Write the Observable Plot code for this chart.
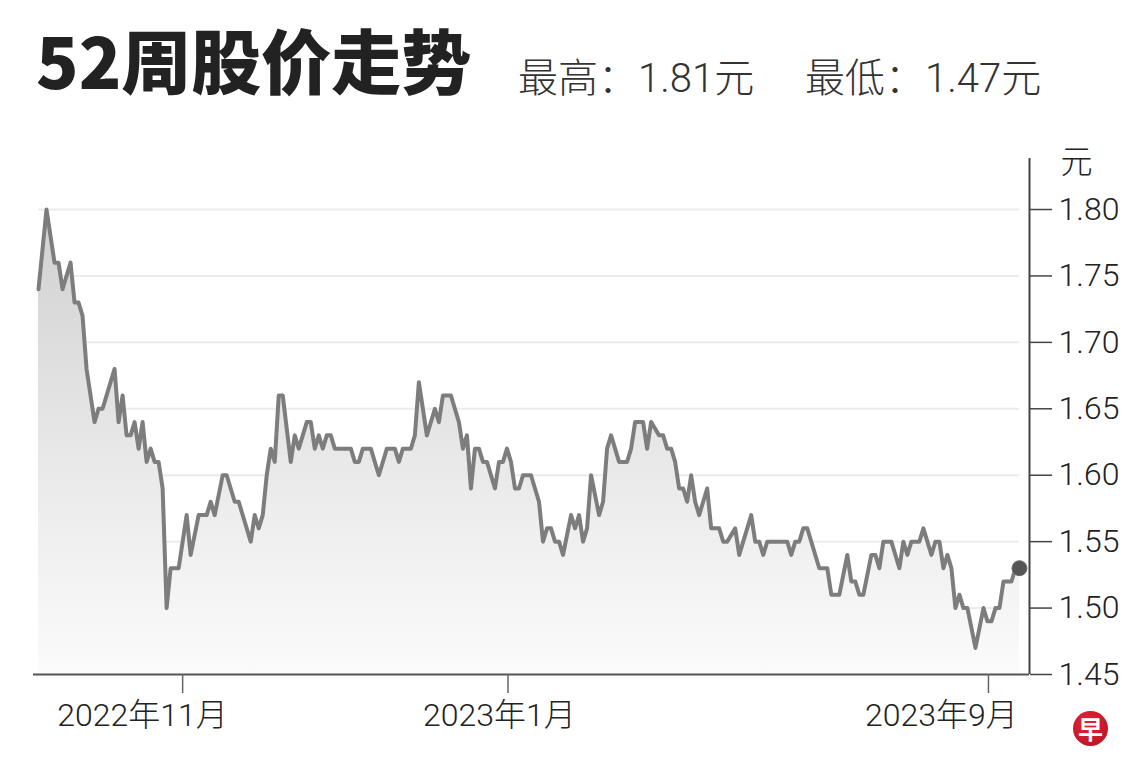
<!DOCTYPE html>
<html>
<head>
<meta charset="utf-8">
<script src="https://cdn.jsdelivr.net/npm/d3@7"></script>
<script src="https://cdn.jsdelivr.net/npm/@observablehq/plot@0.6"></script>
<style>
  html, body { margin: 0; padding: 0; background: #fff; }
  #wrap { position: relative; width: 1140px; height: 778px; overflow: hidden; }
  #header { display: block; }
  #logo {
    position: absolute; left: 1073px; top: 711px; width: 35px; height: 35px;
    border-radius: 50%; background: radial-gradient(circle at 40% 35%, #e0283c, #b3101f);
    color: #fff; font: bold 25px "Noto Sans CJK SC", sans-serif; line-height: 35px; text-align: center;
  }
</style>
</head>
<body>
<div id="wrap">
  <svg id="header" width="1140" height="120" xmlns="http://www.w3.org/2000/svg">
    <text x="36" y="89" font-family="'Noto Sans CJK SC', sans-serif" font-weight="900" font-size="70" fill="#222">52周股价走势</text>
    <text x="518" y="92" font-family="Roboto, 'Noto Sans CJK SC', sans-serif" font-weight="300" font-size="40" fill="#333">最高：1.81元</text>
    <text x="805" y="92" font-family="Roboto, 'Noto Sans CJK SC', sans-serif" font-weight="300" font-size="40" fill="#333">最低：1.47元</text>
  </svg>
  <div id="chart"></div>
  <div id="logo">早</div>
</div>
<script>
// Trading-day index along the 52-week window
const days = [
  0, 2, 4, 5, 6, 8, 9, 10, 11, 12, 14, 15, 16, 19, 20, 21, 22, 23, 24, 25,
  26, 27, 28, 29, 30, 31, 32, 33, 35, 37, 38, 40, 42, 43, 44, 46, 47, 49, 50, 53,
  54, 55, 56, 57, 58, 59, 60, 61, 63, 64, 65, 67, 68, 69, 70, 71, 72, 73, 74, 78,
  79, 80, 81, 83, 85, 87, 89, 90, 91, 93, 94, 95, 97, 99, 100, 101, 103, 105, 106, 107,
  108, 109, 110, 111, 112, 114, 115, 116, 117, 118, 119, 120, 121, 123, 125, 126, 127, 128, 129, 130,
  131, 133, 134, 135, 136, 137, 138, 140, 141, 142, 143, 145, 147, 148, 149, 151, 152, 153, 155, 156,
  157, 158, 159, 160, 161, 162, 163, 164, 165, 167, 168, 170, 171, 172, 174, 175, 178, 179, 180, 181,
  182, 187, 188, 189, 190, 191, 192, 195, 197, 198, 200, 202, 203, 204, 205, 206, 208, 209, 210, 211,
  213, 215, 216, 217, 218, 220, 221, 223, 224, 225, 226, 227, 228, 229, 230, 231, 232, 234, 236, 237,
  238, 239, 240, 241, 243, 244, 245
];
// Closing price (元)
const prices = [
  1.74, 1.80, 1.76, 1.76, 1.74, 1.76, 1.73, 1.73, 1.72, 1.68, 1.64, 1.65, 1.65, 1.68, 1.64, 1.66, 1.63, 1.63, 1.64, 1.62,
  1.64, 1.61, 1.62, 1.61, 1.61, 1.59, 1.50, 1.53, 1.53, 1.57, 1.54, 1.57, 1.57, 1.58, 1.57, 1.60, 1.60, 1.58, 1.58, 1.55,
  1.57, 1.56, 1.57, 1.60, 1.62, 1.61, 1.66, 1.66, 1.61, 1.63, 1.62, 1.64, 1.64, 1.62, 1.63, 1.62, 1.63, 1.63, 1.62, 1.62,
  1.61, 1.61, 1.62, 1.62, 1.60, 1.62, 1.62, 1.61, 1.62, 1.62, 1.63, 1.67, 1.63, 1.65, 1.64, 1.66, 1.66, 1.64, 1.62, 1.63,
  1.59, 1.62, 1.62, 1.61, 1.61, 1.59, 1.61, 1.61, 1.62, 1.61, 1.59, 1.59, 1.60, 1.60, 1.58, 1.55, 1.56, 1.56, 1.55, 1.55,
  1.54, 1.57, 1.56, 1.57, 1.55, 1.56, 1.60, 1.57, 1.58, 1.62, 1.63, 1.61, 1.61, 1.62, 1.64, 1.64, 1.62, 1.64, 1.63, 1.63,
  1.62, 1.62, 1.61, 1.59, 1.59, 1.58, 1.60, 1.58, 1.57, 1.59, 1.56, 1.56, 1.55, 1.55, 1.56, 1.54, 1.57, 1.55, 1.55, 1.54,
  1.55, 1.55, 1.54, 1.55, 1.55, 1.56, 1.56, 1.53, 1.53, 1.51, 1.51, 1.54, 1.52, 1.52, 1.51, 1.51, 1.54, 1.54, 1.53, 1.55,
  1.55, 1.53, 1.55, 1.54, 1.55, 1.55, 1.56, 1.54, 1.55, 1.55, 1.53, 1.54, 1.53, 1.50, 1.51, 1.50, 1.50, 1.47, 1.50, 1.49,
  1.49, 1.50, 1.50, 1.52, 1.52, 1.53, 1.53
];
// Month ticks on the x axis
const tickDays = [36, 117.25, 237.25];
const tickLabels = ["2022年11月", "2023年1月", "2023年9月"];
const labelDays = [26, 115.1, 225.5];
// Price ticks on the y axis
const yTicks = [1.45, 1.50, 1.55, 1.60, 1.65, 1.70, 1.75, 1.80];
const yUnit = "元";

const data = days.map((d, i) => ({day: d, price: prices[i]}));
const last = data[data.length - 1];
const xMax = 247.5;
const yTop = 1.8384;

const chart = Plot.plot({
  width: 1140,
  height: 658,
  marginTop: 38,
  marginBottom: 104,
  marginLeft: 33,
  marginRight: 111,
  style: {fontFamily: "Roboto, 'Noto Sans CJK SC', sans-serif", fontSize: "32px", fontWeight: 300, color: "#222", background: "#fff"},
  x: {domain: [-1.25, xMax], axis: null},
  y: {domain: [1.45, yTop], axis: null},
  marks: [
    Plot.ruleY(yTicks.filter(t => t > 1.45), {x1: days[0], x2: days[days.length - 1], stroke: "#ececec", strokeWidth: 2}),
    Plot.areaY(data, {x: "day", y1: 1.45, y2: "price", fill: "url(#areaGrad)", curve: "linear"}),
    Plot.line(data, {x: "day", y: "price", stroke: "#7d7d7d", strokeWidth: 4, strokeLinejoin: "round", strokeLinecap: "round"}),
    Plot.dot([last], {x: "day", y: "price", r: 7.5, fill: "#555", stroke: "#6a6a6a", strokeWidth: 1}),
    Plot.ruleY([1.45], {stroke: "#555", strokeWidth: 2}),
    Plot.ruleX([xMax], {stroke: "#444", strokeWidth: 2}),
    Plot.axisY(yTicks, {anchor: "right", tickSize: 22, tickPadding: 7, tickFormat: d => d.toFixed(2), stroke: "#444", strokeWidth: 1.5, fontSize: 32, fill: "#222", label: null}),
    Plot.text([yUnit], {frameAnchor: "top-right", textAnchor: "start", dx: 31, dy: -8, fontSize: 32, fill: "#222"}),
    Plot.axisX(tickDays, {anchor: "bottom", tickSize: 19, tickFormat: () => "", stroke: "#666", strokeWidth: 1.5, label: null}),
    Plot.text(tickLabels, {x: (d, i) => labelDays[i], frameAnchor: "bottom", dy: 51, fontSize: 32, fill: "#222"})
  ]
});

const ns = "http://www.w3.org/2000/svg";
const defs = document.createElementNS(ns, "defs");
defs.innerHTML = `<linearGradient id="areaGrad" x1="0" y1="0" x2="0" y2="1">
  <stop offset="0" stop-color="#d0d0d0"/>
  <stop offset="0.55" stop-color="#e9e9e9"/>
  <stop offset="1" stop-color="#fbfbfb"/>
</linearGradient>`;
chart.insertBefore(defs, chart.firstChild);
document.getElementById("chart").appendChild(chart);
</script>
</body>
</html>
